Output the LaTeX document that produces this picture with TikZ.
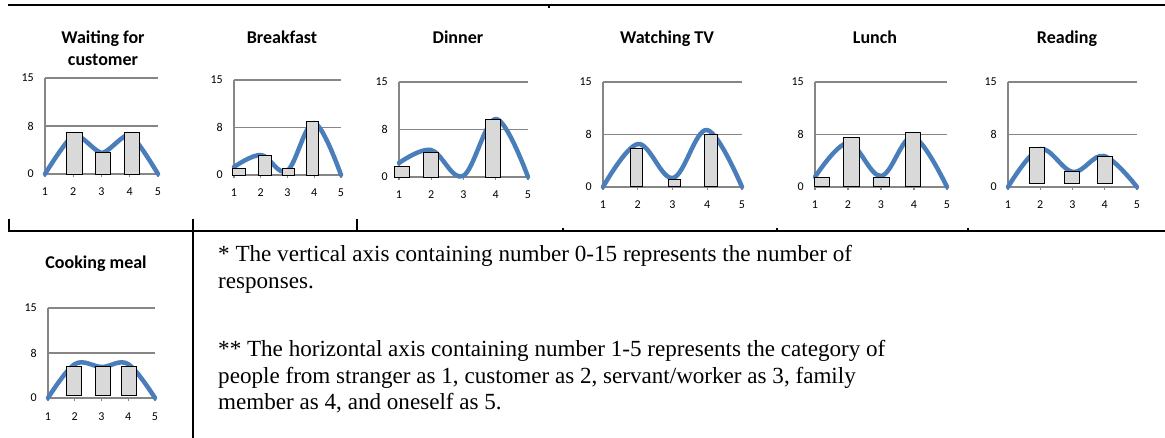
\documentclass[tikz,border=0pt]{standalone}
\usepackage{fontspec}
\setmainfont{Liberation Serif}
\newfontfamily\calib{Carlito}
\definecolor{gridgray}{RGB}{134,134,134}
\definecolor{barfill}{RGB}{217,217,217}
\definecolor{curveblue}{RGB}{74,126,187}
\newcommand\chartaxes[4]{%
  \pgfmathsetmacro\cdx{(#2-#1)/4}%
  \draw[gridln] (#1,#3-2*#4) -- (#2,#3-2*#4);
  \draw[gridln] (#1,#3-#4) -- (#2,#3-#4);
  \draw[gridln] (#1,#3) -- (#2,#3);
  \draw[gridln] (#1,#3-2*#4) -- (#1,#3+3);
  \foreach \i in {0,...,4}{%
    \draw[gridln] (#1+\i*\cdx,#3) -- (#1+\i*\cdx,#3+3);
    \pgfmathtruncatemacro\lab{\i+1}%
    \node[axl,anchor=base] at (#1+\i*\cdx,#3+22) {\lab};
  }
  \node[axl,anchor=east] at (#1-11,#3-2*#4) {15};
  \node[axl,anchor=east] at (#1-11,#3-#4) {8};
  \node[axl,anchor=east] at (#1-11,#3) {0};
}
\begin{document}
\begin{tikzpicture}[x=1pt,y=-1pt,
  gridln/.style={draw=gridgray,line width=1.3pt},
  barbox/.style={draw=black,fill=barfill,line width=0.9pt},
  blueline/.style={draw=curveblue,line width=4.5pt,line cap=round,line join=round},
  ttl/.style={font=\calib\bfseries\fontsize{18}{22}\selectfont,anchor=base,inner sep=0pt},
  axl/.style={font=\calib\fontsize{12}{14}\selectfont,inner sep=0pt},
  note/.style={font=\fontsize{23.1}{27}\selectfont,anchor=base west,inner sep=0pt},
  frame/.style={draw=black,line width=2pt},
  thinframe/.style={draw=black,line width=1.3pt}]
\useasboundingbox[fill=white] (0,0) rectangle (1165,438);

% frame lines
\coordinate (tl) at (8,5);
\coordinate (tr) at (1165,5);
\coordinate (ml) at (8,231);
\coordinate (mm) at (193,231);
\coordinate (mr) at (1165,231);
\coordinate (bm) at (193,438);
\draw[frame] (tl) -- (tr);
\draw[thinframe] (ml) -- (mm);
\draw[frame] (mm) -- (mr);
\draw[thinframe] (9,219) -- (9,231);
\draw[frame] (193,219) -- (bm);
\draw[frame] (357,219) -- (357,231);
\draw[thinframe] (549,5) -- (549,8);
\draw[thinframe] (563,228) -- (563,231);
\draw[thinframe] (777,228) -- (777,231);
\draw[thinframe] (968,228) -- (968,231);

% Chart 1: Waiting for customer
\chartaxes{45}{158}{174}{48}
\draw[blueline] plot[smooth,tension=0.4] coordinates {(45,174) (74,135) (102,153) (130,135) (158,174)};
\draw[barbox] (66,132) rectangle (82,174);
\draw[barbox] (95,152) rectangle (110,174);
\draw[barbox] (124,132) rectangle (139,174);
\node[ttl] (t1a) at (103,44) {Waiting for};
\node[ttl] (t1b) at (103,66) {customer};

% Chart 2: Breakfast
\chartaxes{234}{341}{175}{47.5}
\draw[blueline] plot[smooth,tension=0.6] coordinates {(234,167) (261,155) (287,171) (314,123) (341,175)};
\draw[barbox] (232,168) rectangle (245,175);
\draw[barbox] (258,155) rectangle (271,175);
\draw[barbox] (282,168) rectangle (294,175);
\draw[barbox] (306,121) rectangle (318,175);
\node[ttl] (t2) at (282,44) {Breakfast};

% Chart 3: Dinner
\chartaxes{399}{528}{177}{47.5}
\draw[blueline] plot[smooth,tension=0.6] coordinates {(399,163) (431,150) (463,176) (496,119) (528,177)};
\draw[barbox] (394,166) rectangle (409,177);
\draw[barbox] (423,152) rectangle (438,177);
\draw[barbox] (485,119) rectangle (500,177);
\node[ttl] (t3) at (458,44) {Dinner};

% Chart 4: Watching TV
\chartaxes{603}{742}{187}{52.5}
\draw[blueline] plot[smooth,tension=0.6] coordinates {(603,187) (638,144) (673,178) (707,130) (742,187)};
\draw[barbox] (630,148) rectangle (642,186);
\draw[barbox] (668,179) rectangle (680,186);
\draw[barbox] (704,134) rectangle (717,186);
\node[ttl] (t4) at (667,44) {Watching TV};

% Chart 5: Lunch
\chartaxes{815}{947}{187}{52.5}
\draw[blueline] plot[smooth,tension=0.6] coordinates {(815,177) (848,143) (881,176) (913,137) (947,187)};
\draw[barbox] (814,177) rectangle (829,186);
\draw[barbox] (843,137) rectangle (859,186);
\draw[barbox] (873,177) rectangle (889,186);
\draw[barbox] (905,132) rectangle (920,186);
\node[ttl] (t5) at (875,44) {Lunch};

% Chart 6: Reading
\chartaxes{1008}{1137}{187}{52.5}
\draw[blueline] plot[smooth,tension=0.6] coordinates {(1008,187) (1040,149) (1073,172) (1104,156) (1137,187)};
\draw[barbox] (1029,147) rectangle (1044,183);
\draw[barbox] (1064,171) rectangle (1079,183);
\draw[barbox] (1097,156) rectangle (1112,183);
\node[ttl] (t6) at (1067,44) {Reading};

% Chart 7: Cooking meal
\chartaxes{48}{155}{398}{45}
\draw[blueline] plot[smooth,tension=0.6] coordinates {(48,398) (75,364) (102,367) (128,364) (155,398)};
\draw[barbox] (66,366) rectangle (81,395);
\draw[barbox] (95,366) rectangle (110,395);
\draw[barbox] (121,366) rectangle (136,395);
\node[ttl] (t7) at (96,269) {Cooking meal};

% notes
\node[note] (n1) at (218,262) {* The vertical axis containing number 0-15 represents the number of};
\node[note] (n2) at (218,289) {responses.};
\node[note] (n3) at (218,356) {** The horizontal axis containing number 1-5 represents the category of};
\node[note] (n4) at (218,383) {people from stranger as 1, customer as 2, servant/worker as 3, family};
\node[note] (n5) at (218,409) {member as 4, and oneself as 5.};
\end{tikzpicture}
\end{document}
